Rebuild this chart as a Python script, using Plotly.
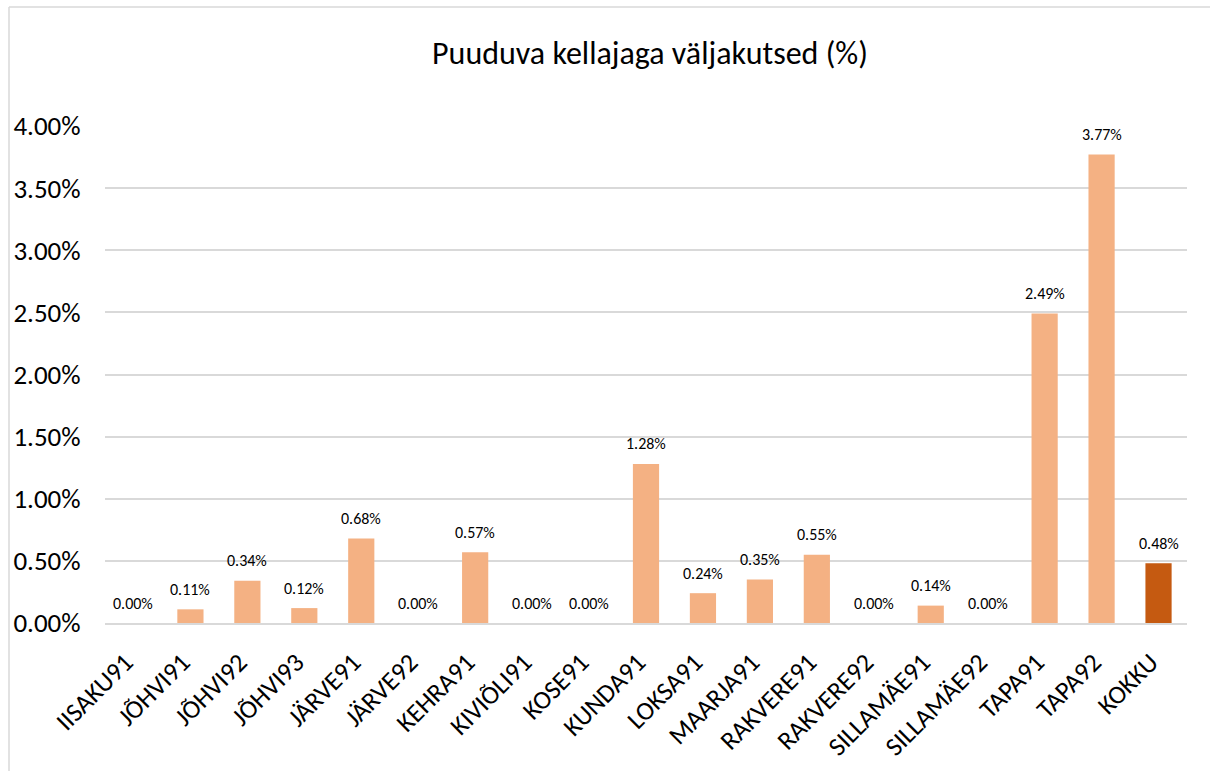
import plotly.graph_objects as go

categories = ["IISAKU91", "JÕHVI91", "JÕHVI92", "JÕHVI93", "JÄRVE91", "JÄRVE92", "KEHRA91",
              "KIVIÕLI91", "KOSE91", "KUNDA91", "LOKSA91", "MAARJA91", "RAKVERE91", "RAKVERE92",
              "SILLAMÄE91", "SILLAMÄE92", "TAPA91", "TAPA92", "KOKKU"]
values = [0.0000, 0.0011, 0.0034, 0.0012, 0.0068, 0.0000, 0.0057, 0.0000, 0.0000, 0.0128,
          0.0024, 0.0035, 0.0055, 0.0000, 0.0014, 0.0000, 0.0249, 0.0377, 0.0048]
y_ticks = [0, 0.005, 0.01, 0.015, 0.02, 0.025, 0.03, 0.035, 0.04]

light = "#F4B183"
dark = "#C55A11"
colors = [dark if c == "KOKKU" else light for c in categories]

font_family = "Carlito, Calibri, Lato, 'Open Sans', sans-serif"

fig = go.Figure(go.Bar(
    x=categories, y=values,
    marker=dict(color=colors, line=dict(width=0)),
    hovertemplate="%{x}: %{y:.2%}<extra></extra>",
))

for c, v in zip(categories, values):
    fig.add_annotation(x=c, y=v, text=f"{v:.2%}", showarrow=False,
                       yanchor="middle", yshift=20,
                       font=dict(size=16, color="#000000", family=font_family))

W, H = 1210, 771
L, R, T, B = 105, 23, 126, 148

fig.update_layout(
    width=W, height=H,
    margin=dict(l=L, r=R, t=T, b=B, pad=0, autoexpand=False),
    paper_bgcolor="white", plot_bgcolor="white",
    bargap=0.54,
    showlegend=False,
    title=dict(text="Puuduva kellajaga väljakutsed (%)", x=650 / W, xanchor="center",
               y=1 - 53 / H, yanchor="middle",
               font=dict(size=32, color="#000000", family=font_family)),
    font=dict(family=font_family, color="#000000"),
    xaxis=dict(tickangle=-45, tickfont=dict(size=26, color="#000000"), automargin=False,
               showgrid=False, showline=True, linecolor="#D9D9D9", linewidth=1.5,
               ticks="outside", ticklen=4, tickcolor="rgba(0,0,0,0)",
               ticklabelshift=-8, ticklabelstandoff=8),
    yaxis=dict(range=[0, 0.04], tickvals=y_ticks, tickformat=".2%", automargin=False,
               tickfont=dict(size=27, color="#000000"),
               showgrid=True, gridcolor="#D9D9D9", gridwidth=1.5,
               zeroline=False, showline=False, ticks="outside", ticklen=18,
               tickcolor="rgba(0,0,0,0)"),
)

pw = W - L - R
ph = H - T - B
# chart-area frame (top and left edges visible in the crop)
fig.add_shape(type="line", xref="paper", yref="paper",
              x0=(9 - L) / pw, x1=(W - L) / pw, y0=(T + ph - 7) / ph, y1=(T + ph - 7) / ph,
              line=dict(color="#D9D9D9", width=1.5), layer="below")
fig.add_shape(type="line", xref="paper", yref="paper",
              x0=(9 - L) / pw, x1=(9 - L) / pw, y0=(T + ph - 7) / ph, y1=-B / ph,
              line=dict(color="#D9D9D9", width=1.5), layer="below")

fig.write_html("out.html", config={"displayModeBar": False},
               post_script="document.body.style.margin='0';")
